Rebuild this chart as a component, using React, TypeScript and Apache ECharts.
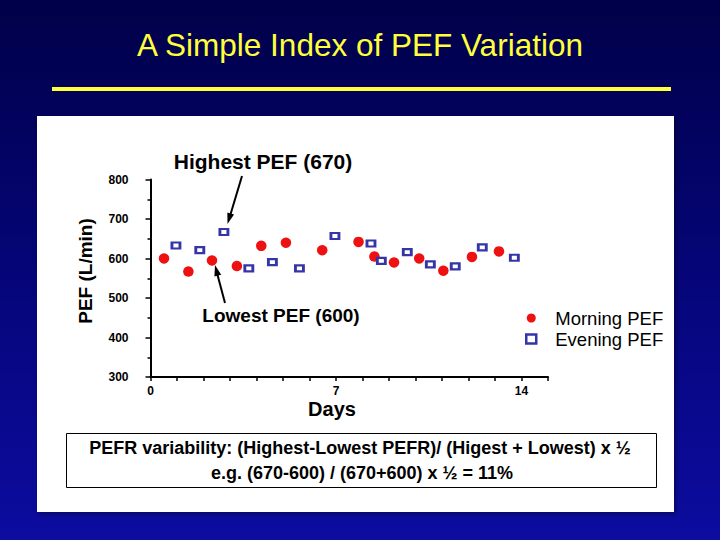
import React, { useEffect, useRef } from 'react';
import * as echarts from 'echarts';

const morningDays = [0.51, 1.43, 2.32, 3.26, 4.18, 5.11, 6.48, 7.85, 8.45, 9.19, 10.14, 11.05, 12.13, 13.15];
const morningPef = [600, 567, 595, 581, 632, 640, 621, 642, 605, 590, 600, 569, 604, 618];
const eveningDays = [0.96, 1.86, 2.77, 3.71, 4.6, 5.62, 6.96, 8.32, 8.71, 9.69, 10.56, 11.5, 12.52, 13.73];
const eveningPef = [633, 621, 667, 575, 591, 575, 657, 638, 594, 616, 585, 580, 628, 602];
const xLabelDays = [0, 7, 14];
const seriesNames = ['Morning PEF', 'Evening PEF'];

const FONT = '"Liberation Sans", Arial, sans-serif';

export default function App() {
  const ref = useRef<HTMLDivElement>(null);
  useEffect(() => {
    if (!ref.current) return;
    const chart = echarts.init(ref.current, null, { renderer: 'svg' });
    const arrowHead = (tx: number, ty: number, fx: number, fy: number) => {
      const ang = Math.atan2(ty - fy, tx - fx);
      const len = 11;
      const w = 3.5;
      const bx = tx - len * Math.cos(ang);
      const by = ty - len * Math.sin(ang);
      const nx = -Math.sin(ang) * w;
      const ny = Math.cos(ang) * w;
      return {
        type: 'polygon',
        shape: { points: [[tx, ty], [bx + nx, by + ny], [bx - nx, by - ny]] },
        style: { fill: '#000' },
        z: 50,
      };
    };
    chart.setOption({
      animation: false,
      backgroundColor: {
        type: 'linear', x: 0, y: 0, x2: 0, y2: 1,
        colorStops: [
          { offset: 0, color: '#000048' },
          { offset: 0.5, color: '#050578' },
          { offset: 1, color: '#0c0ca0' },
        ],
      },
      title: {
        text: 'A Simple Index of PEF Variation',
        left: 'center',
        top: 24,
        textStyle: { color: '#ffff3a', fontSize: 31.5, fontWeight: 'normal', fontFamily: FONT },
      },
      legend: {
        orient: 'vertical',
        left: 525,
        top: 308,
        padding: 0,
        itemGap: 1,
        itemWidth: 10,
        itemHeight: 9,
        data: [
          { name: seriesNames[0] },
          { name: seriesNames[1], itemStyle: { borderWidth: 2.5, borderColor: '#3535a8', color: '#ffffff' } },
        ],
        textStyle: { color: '#000', fontSize: 18.5, lineHeight: 20, fontFamily: FONT, padding: [0, 0, 0, 14] },
      },
      grid: { left: 150.5, right: 172, top: 179.5, bottom: 163, containLabel: false },
      xAxis: {
        type: 'value',
        min: 0,
        max: 15,
        interval: 1,
        splitLine: { show: false },
        axisLine: { show: true, lineStyle: { color: '#000', width: 2 } },
        axisTick: { show: true, length: 4, lineStyle: { color: '#000', width: 1.5 } },
        axisLabel: {
          color: '#000', fontWeight: 'bold', fontSize: 12, fontFamily: FONT, margin: 8,
          formatter: (v: number) => (xLabelDays.includes(v) ? String(v) : ''),
        },
      },
      yAxis: {
        type: 'value',
        min: 300,
        max: 800,
        interval: 100,
        splitLine: { show: false },
        axisLine: { show: true, lineStyle: { color: '#000', width: 2 } },
        axisTick: { show: true, length: 5, lineStyle: { color: '#000', width: 1.5 } },
        minorTick: { show: true, splitNumber: 2, length: 3, lineStyle: { color: '#000', width: 1.5 } },
        axisLabel: { color: '#000', fontWeight: 'bold', fontSize: 12, fontFamily: FONT, margin: 22 },
      },
      series: [
        {
          name: seriesNames[0],
          type: 'scatter',
          symbol: 'circle',
          symbolSize: 10.5,
          itemStyle: { color: '#ee1111', opacity: 1 },
          data: morningDays.map((d, i) => [d, morningPef[i]]),
          z: 3,
        },
        {
          name: seriesNames[1],
          type: 'scatter',
          symbol: 'rect',
          symbolSize: [8, 6],
          itemStyle: { color: '#ffffff', borderColor: '#3535a8', borderWidth: 2.5, opacity: 1 },
          data: eveningDays.map((d, i) => [d, eveningPef[i]]),
          z: 4,
        },
      ],
      graphic: [
        {
          type: 'rect', z: -10,
          shape: { x: 37, y: 116, width: 637, height: 396 },
          style: { fill: '#ffffff', shadowBlur: 4, shadowColor: 'rgba(0,0,0,0.4)', shadowOffsetX: 2, shadowOffsetY: 2 },
        },
        {
          type: 'rect', z: 5,
          shape: { x: 52, y: 87, width: 619, height: 4 },
          style: { fill: '#ffff3a' },
        },
        {
          type: 'rect', z: 5,
          shape: { x: 66.5, y: 433.5, width: 590, height: 54 },
          style: { fill: '#ffffff', stroke: '#000', lineWidth: 1 },
        },
        {
          type: 'text', z: 6, x: 360, y: 448,
          style: {
            text: 'PEFR variability: (Highest-Lowest PEFR)/ (Higest + Lowest) x ½',
            font: `bold 18px ${FONT}`, fill: '#000', textAlign: 'center', textVerticalAlign: 'middle',
          },
        },
        {
          type: 'text', z: 6, x: 362, y: 473,
          style: {
            text: 'e.g. (670-600) / (670+600) x ½ = 11%',
            font: `bold 18px ${FONT}`, fill: '#000', textAlign: 'center', textVerticalAlign: 'middle',
          },
        },
        {
          type: 'text', z: 6, x: 263, y: 161,
          style: {
            text: 'Highest PEF (670)', font: `bold 21px ${FONT}`, fill: '#000',
            textAlign: 'center', textVerticalAlign: 'middle',
          },
        },
        {
          type: 'text', z: 6, x: 281, y: 315,
          style: {
            text: 'Lowest PEF (600)', font: `bold 19px ${FONT}`, fill: '#000',
            textAlign: 'center', textVerticalAlign: 'middle',
          },
        },
        {
          type: 'text', z: 6, x: 85, y: 271, rotation: Math.PI / 2,
          style: {
            text: 'PEF (L/min)', font: `bold 19px ${FONT}`, fill: '#000',
            textAlign: 'center', textVerticalAlign: 'middle',
          },
        },
        {
          type: 'text', z: 6, x: 332, y: 409,
          style: {
            text: 'Days', font: `bold 20px ${FONT}`, fill: '#000',
            textAlign: 'center', textVerticalAlign: 'middle',
          },
        },
        {
          type: 'line', z: 50,
          shape: { x1: 242, y1: 176, x2: 230, y2: 216 },
          style: { stroke: '#000', lineWidth: 2 },
        },
        arrowHead(227.5, 224, 242, 176),
        {
          type: 'line', z: 50,
          shape: { x1: 225, y1: 303, x2: 217, y2: 273 },
          style: { stroke: '#000', lineWidth: 2 },
        },
        arrowHead(215, 265, 225, 303),
      ],
    });
    return () => chart.dispose();
  }, []);
  return (
    <div
      ref={ref}
      style={{ position: 'absolute', left: 0, top: 0, width: 720, height: 540 }}
    />
  );
}
